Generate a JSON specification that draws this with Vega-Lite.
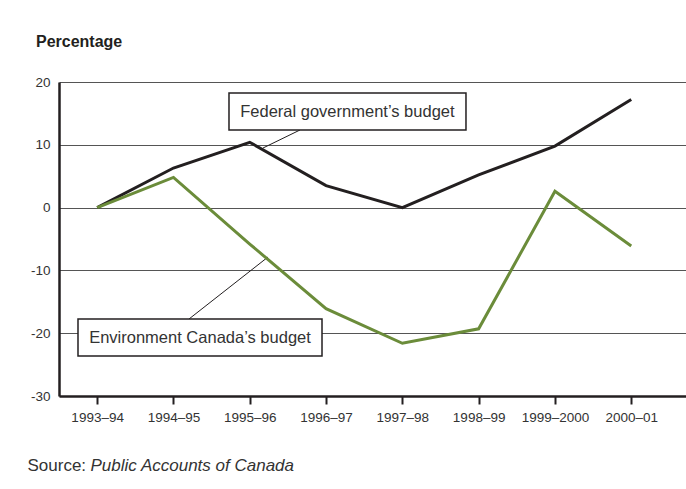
{
  "$schema": "https://vega.github.io/schema/vega-lite/v6.json",
  "width": 627,
  "height": 314,
  "autosize": {"type": "none"},
  "padding": {"left": 59, "top": 82, "right": 0, "bottom": 93},
  "background": "white",
  "config": {"view": {"stroke": null}, "font": "Liberation Sans"},
  "title": {
    "text": "Percentage",
    "anchor": "start",
    "orient": "top",
    "frame": "group",
    "dx": -23,
    "offset": 25,
    "fontSize": 16,
    "fontWeight": "bold",
    "color": "#231f20",
    "font": "Liberation Sans"
  },
  "datasets": {
    "series": [
      {"year": 1993, "period": "1993–94", "series": "Federal government’s budget", "value": 0},
      {"year": 1994, "period": "1994–95", "series": "Federal government’s budget", "value": 6.3},
      {"year": 1995, "period": "1995–96", "series": "Federal government’s budget", "value": 10.4},
      {"year": 1996, "period": "1996–97", "series": "Federal government’s budget", "value": 3.5},
      {"year": 1997, "period": "1997–98", "series": "Federal government’s budget", "value": 0},
      {"year": 1998, "period": "1998–99", "series": "Federal government’s budget", "value": 5.2},
      {"year": 1999, "period": "1999–2000", "series": "Federal government’s budget", "value": 9.8},
      {"year": 2000, "period": "2000–01", "series": "Federal government’s budget", "value": 17.2},
      {"year": 1993, "period": "1993–94", "series": "Environment Canada’s budget", "value": 0},
      {"year": 1994, "period": "1994–95", "series": "Environment Canada’s budget", "value": 4.8},
      {"year": 1995, "period": "1995–96", "series": "Environment Canada’s budget", "value": -5.8},
      {"year": 1996, "period": "1996–97", "series": "Environment Canada’s budget", "value": -16.1},
      {"year": 1997, "period": "1997–98", "series": "Environment Canada’s budget", "value": -21.6},
      {"year": 1998, "period": "1998–99", "series": "Environment Canada’s budget", "value": -19.3},
      {"year": 1999, "period": "1999–2000", "series": "Environment Canada’s budget", "value": 2.6},
      {"year": 2000, "period": "2000–01", "series": "Environment Canada’s budget", "value": -6.1}
    ],
    "labels": [
      {"label": "Federal government’s budget", "bx1": 1994.728, "bx2": 1997.834, "by1": 18.25, "by2": 12.36, "tx": 1996.28, "ty": 15.3, "lx1": 1995.659, "ly1": 12.36, "lx2": 1995.174, "ly2": 9.49},
      {"label": "Environment Canada’s budget", "bx1": 1992.749, "bx2": 1995.947, "by1": -17.74, "by2": -23.63, "tx": 1994.348, "ty": -20.69, "lx1": 1994.204, "ly1": -17.74, "lx2": 1995.239, "ly2": -7.87}
    ]
  },
  "layer": [
    {
      "data": {"name": "labels"},
      "mark": {"type": "rule", "color": "#231f20", "strokeWidth": 1},
      "encoding": {
        "x": {"field": "lx1", "type": "quantitative"},
        "y": {"field": "ly1", "type": "quantitative"},
        "x2": {"field": "lx2"},
        "y2": {"field": "ly2"}
      }
    },
    {
      "data": {"name": "series"},
      "mark": {"type": "line", "strokeWidth": 3},
      "encoding": {
        "x": {
          "field": "year",
          "type": "quantitative",
          "scale": {"domain": [1992.5, 2000.7176], "nice": false, "zero": false},
          "axis": {
            "values": [1993, 1994, 1995, 1996, 1997, 1998, 1999, 2000],
            "labelExpr": "datum.value == 1999 ? '1999–2000' : datum.value + '–' + slice('0' + ((datum.value + 1) % 100), -2)",
            "grid": false,
            "domain": true,
            "domainColor": "#231f20",
            "domainWidth": 2.5,
            "ticks": true,
            "tickSize": 8,
            "tickWidth": 2,
            "tickColor": "#231f20",
            "labelFont": "Liberation Sans",
            "labelFontSize": 13.5,
            "labelColor": "#333333",
            "labelPadding": 6,
            "title": "Public Accounts of Canada",
            "titleFont": "Liberation Sans",
            "titleFontStyle": "italic",
            "titleFontWeight": "normal",
            "titleFontSize": 17,
            "titleColor": "#333333",
            "titleX": 31,
            "titleY": 74,
            "titleAlign": "left",
            "titleBaseline": "alphabetic",
            "titleAnchor": null
          }
        },
        "y": {
          "field": "value",
          "type": "quantitative",
          "scale": {"domain": [-30, 20], "nice": false, "zero": false},
          "axis": {
            "values": [-30, -20, -10, 0, 10, 20],
            "labelExpr": "'' + datum.value",
            "grid": true,
            "gridColor": "#555555",
            "gridWidth": 1,
            "domain": true,
            "domainColor": "#231f20",
            "domainWidth": 2.5,
            "ticks": false,
            "labelFont": "Liberation Sans",
            "labelFontSize": 13.5,
            "labelColor": "#333333",
            "labelPadding": 9,
            "title": "Source:",
            "titleAngle": 0,
            "titleFont": "Liberation Sans",
            "titleFontWeight": "normal",
            "titleFontSize": 17,
            "titleColor": "#333333",
            "titleX": -32,
            "titleY": 388,
            "titleAlign": "left",
            "titleBaseline": "alphabetic",
            "titleAnchor": null
          }
        },
        "color": {
          "field": "series",
          "type": "nominal",
          "scale": {"domain": ["Federal government’s budget", "Environment Canada’s budget"], "range": ["#231f20", "#6b8c3a"]},
          "legend": null
        }
      }
    },
    {
      "data": {"name": "labels"},
      "mark": {"type": "rect", "fill": "white", "stroke": "#231f20", "strokeWidth": 1.5},
      "encoding": {
        "x": {"field": "bx1", "type": "quantitative"},
        "x2": {"field": "bx2"},
        "y": {"field": "by1", "type": "quantitative"},
        "y2": {"field": "by2"}
      }
    },
    {
      "data": {"name": "labels"},
      "mark": {"type": "text", "font": "Liberation Sans", "fontSize": 16.5, "color": "#333333", "align": "center", "baseline": "middle"},
      "encoding": {
        "x": {"field": "tx", "type": "quantitative"},
        "y": {"field": "ty", "type": "quantitative"},
        "text": {"field": "label"}
      }
    }
  ]
}
